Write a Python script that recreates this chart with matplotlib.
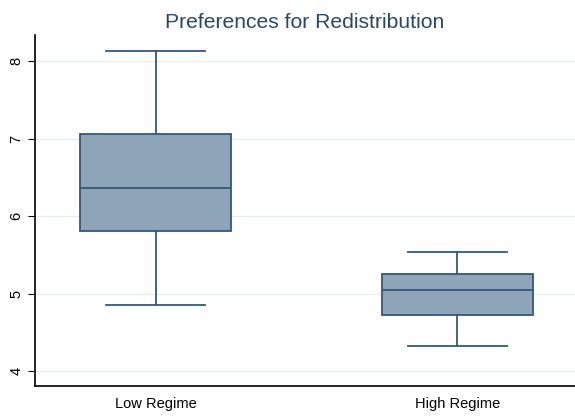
import matplotlib
matplotlib.use("Agg")
import matplotlib.pyplot as plt

# box summary values
groups = ["Low Regime", "High Regime"]
whislo = [4.85, 4.32]
q1 = [5.81, 4.72]
med = [6.37, 5.05]
q3 = [7.06, 5.25]
whishi = [8.13, 5.54]
yticks = [4, 5, 6, 7, 8]

plt.rcParams["font.family"] = ["Liberation Sans", "DejaVu Sans"]

fig = plt.figure(figsize=(5.75, 4.17), dpi=100)
ax = fig.add_axes([35/575, 31/417, 540/575, 351/417])

stats = []
for i in range(len(groups)):
    stats.append(dict(label=groups[i], whislo=whislo[i], q1=q1[i], med=med[i],
                      q3=q3[i], whishi=whishi[i], fliers=[]))

edge = "#34587c"
ax.bxp(stats, positions=[1, 2], widths=0.5, patch_artist=True, showfliers=False,
       boxprops=dict(facecolor="#8ea4b8", edgecolor=edge, linewidth=1.3),
       medianprops=dict(color=edge, linewidth=1.3),
       whiskerprops=dict(color=edge, linewidth=1.3),
       capprops=dict(color=edge, linewidth=1.3),
       capwidths=0.33)

ax.set_xlim(0.6, 2.39)
ax.set_ylim(3.81, 8.34)
ax.set_yticks(yticks)
ax.set_yticklabels([str(t) for t in yticks], rotation=90, va="center")
ax.yaxis.grid(True, color="#e8eef0", linewidth=1)
ax.set_axisbelow(True)
for s in ["top", "right"]:
    ax.spines[s].set_visible(False)
ax.spines["left"].set_linewidth(1.2)
ax.spines["bottom"].set_linewidth(1.2)
ax.tick_params(axis="x", length=0, labelsize=10.5, pad=8)
ax.tick_params(axis="y", labelsize=10.5, length=5)
ax.set_title("Preferences for Redistribution", fontsize=15.2, color="#2a4668", pad=5)

fig.savefig("out.png")
